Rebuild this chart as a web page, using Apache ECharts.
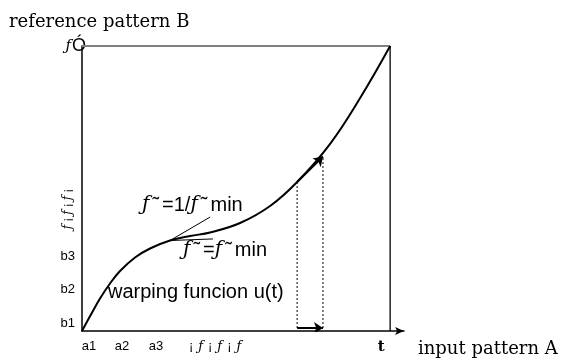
<!DOCTYPE html>
<html><head><meta charset="utf-8">
<script src="https://cdn.jsdelivr.net/npm/echarts@6/dist/echarts.min.js"></script>
<style>html,body{margin:0;padding:0;background:#fff}#c{width:564px;height:358px}</style>
</head><body><div id="c"></div>
<script>
// ---- data (box spans 0..1 on both axes; x axis arrow continues to X_MAX) ----
const X_MAX = 1.045;
const curveX = [0, 0.0292, 0.0584, 0.0909, 0.1234, 0.1721, 0.2208, 0.2857, 0.3506, 0.4156, 0.5130, 0.6104, 0.6981, 0.8052, 0.9026, 1];
const curveY = [0, 0.0579, 0.1140, 0.1667, 0.2105, 0.2579, 0.2895, 0.3175, 0.3333, 0.3456, 0.3789, 0.4386, 0.5228, 0.6568, 0.8175, 1];
const xTickValues = [0.023, 0.13, 0.24, 0.432, 0.971];
const xTickLabels = ['a1', 'a2', 'a3', '¡ƒ¡ƒ¡ƒ', 't'];
const yTickValues = [0.025, 0.147, 0.26];
const yTickLabels = ['b1', 'b2', 'b3'];
const yRotValues = [0.428];
const yRotLabels = ['ƒ¡ƒ¡ƒ¡'];
const yTopValues = [1];
const yTopLabels = ['ƒÓ'];
const tangentSteep = [[0.2857, 0.3175], [0.416, 0.400]];
const tangentFlat = [[0.2857, 0.3175], [0.425, 0.323]];
const curveArrow = [[0.6981, 0.5228], [0.782, 0.612]];
const baseArrow = [[0.6981, 0.0105], [0.782, 0.0105]];
const dotLeft = [[0.6981, 0.0105], [0.6981, 0.5228]];
const dotRight = [[0.782, 0.0105], [0.782, 0.607]];
const boxTop = [[0, 1], [1, 1]];
const boxRight = [[1, 0], [1, 1]];

const SANS = '"Liberation Sans", Arial, sans-serif';
const SERIF = '"DejaVu Serif", serif';

const chart = echarts.init(document.getElementById('c'));
function lookup(vals, labs) { return v => { const i = vals.findIndex(x => Math.abs(x - v) < 1e-9); return i < 0 ? '' : labs[i]; }; }
// spread characters of a label using rich segments (text itself unchanged)
function spread(s) { return s.split('').map(ch => ch === 'ƒ' ? '{f|ƒ}' : '{e|' + ch + '}').join(''); }

const hiddenY = (vals, labs, extra) => ({
  type: 'value', min: 0, max: 1, position: 'left', gridIndex: 0,
  axisLine: { show: false }, axisTick: { show: false }, splitLine: { show: false },
  axisLabel: Object.assign({ customValues: vals, formatter: lookup(vals, labs), fontFamily: SANS, fontSize: 13, color: '#000' }, extra)
});

const annRich = {
  f: { fontFamily: SERIF, fontStyle: 'italic', fontSize: 20, fill: '#000', padding: [0, 1, 0, 0] },
  t: { fontFamily: SANS, fontSize: 20, fill: '#000', padding: [0, 3, 0, 2] }
};

const option = {
  animation: false,
  backgroundColor: '#fff',
  grid: { left: 82, top: 46, width: 322, height: 285 },
  xAxis: {
    type: 'value', min: 0, max: X_MAX,
    axisLine: { show: true, lineStyle: { color: '#000', width: 1.5 }, symbol: ['none', 'arrow'], symbolSize: [6, 9] },
    axisTick: { show: false }, splitLine: { show: false },
    axisLabel: {
      customValues: xTickValues, margin: 9,
      formatter: v => { const s = lookup(xTickValues, xTickLabels)(v); return s === 't' ? '{t|t}' : (s.indexOf('ƒ') >= 0 ? spread(s) : s); },
      fontFamily: SANS, fontSize: 13, color: '#000',
      rich: {
        t: { fontFamily: SERIF, fontWeight: 'bold', fontSize: 15, color: '#000' },
        f: { fontFamily: SERIF, fontStyle: 'italic', fontSize: 13, color: '#000', padding: [0, 2.5, 0, 2.5] },
        e: { fontFamily: SANS, fontSize: 13, color: '#000', padding: [0, 2.5, 0, 2.5] }
      }
    }
  },
  yAxis: [
    Object.assign(hiddenY(yTickValues, yTickLabels, { margin: 7 }), { axisLine: { show: true, lineStyle: { color: '#000', width: 1.5 } } }),
    hiddenY(yRotValues, yRotLabels, {
      rotate: 90, margin: 8, formatter: v => spread(lookup(yRotValues, yRotLabels)(v)),
      rich: {
        f: { fontFamily: SERIF, fontStyle: 'italic', fontSize: 12, color: '#000', padding: [0, 1.5, 0, 1.5] },
        e: { fontFamily: SANS, fontSize: 12, color: '#000', padding: [0, 1.5, 0, 1.5] }
      }
    }),
    hiddenY(yTopValues, yTopLabels, {
      margin: -4,
      formatter: () => '{f|ƒ}{o|Ó}',
      rich: { f: { fontFamily: SERIF, fontStyle: 'italic', fontSize: 15, color: '#000', padding: [0, 1, 0, 0] }, o: { fontFamily: SANS, fontSize: 18, color: '#000' } }
    })
  ],
  series: [
    { type: 'line', data: boxTop, symbol: 'none', lineStyle: { color: '#808080', width: 2 }, z: 1 },
    { type: 'line', data: boxRight, symbol: 'none', lineStyle: { color: '#000', width: 1.3 }, z: 1 },
    { type: 'line', data: curveX.map((x, i) => [x, curveY[i]]), smooth: 0.4, symbol: 'none', lineStyle: { color: '#000', width: 2 }, z: 3 },
    { type: 'line', data: tangentSteep, symbol: 'none', lineStyle: { color: '#000', width: 1 }, z: 2 },
    { type: 'line', data: tangentFlat, symbol: 'none', lineStyle: { color: '#000', width: 1 }, z: 2 },
    { type: 'line', data: dotLeft, symbol: 'none', lineStyle: { color: '#000', width: 1, type: [2, 2] }, z: 2 },
    { type: 'line', data: dotRight, symbol: 'none', lineStyle: { color: '#000', width: 1, type: [2, 2] }, z: 2 },
    { type: 'lines', coordinateSystem: 'cartesian2d', symbol: ['none', 'arrow'], symbolSize: 9,
      lineStyle: { color: '#000', width: 2, opacity: 1 },
      data: [{ coords: curveArrow }, { coords: baseArrow }], z: 4 }
  ],
  graphic: [
    { type: 'text', x: 9, y: 22, style: { text: 'reference pattern B', font: '18px "DejaVu Serif", serif', fill: '#000', verticalAlign: 'middle' } },
    { type: 'text', x: 418, y: 349, style: { text: 'input pattern A', font: '18px "DejaVu Serif", serif', fill: '#000', verticalAlign: 'middle' } },
    { type: 'text', x: 108, y: 292, style: { text: 'warping funcion u(t)', font: '20px "Liberation Sans", Arial, sans-serif', fill: '#000', verticalAlign: 'middle' } },
    { type: 'text', x: 142, y: 205, style: {
      text: '{f|ƒ}{t|˜}=1/{f|ƒ}{t|˜}min', font: '20px "Liberation Sans", Arial, sans-serif', fill: '#000', verticalAlign: 'middle', rich: annRich } },
    { type: 'text', x: 183, y: 250, style: {
      text: '{f|ƒ}{t|˜}={f|ƒ}{t|˜}min', font: '20px "Liberation Sans", Arial, sans-serif', fill: '#000', verticalAlign: 'middle', rich: annRich } }
  ]
};
chart.setOption(option);
</script></body></html>
